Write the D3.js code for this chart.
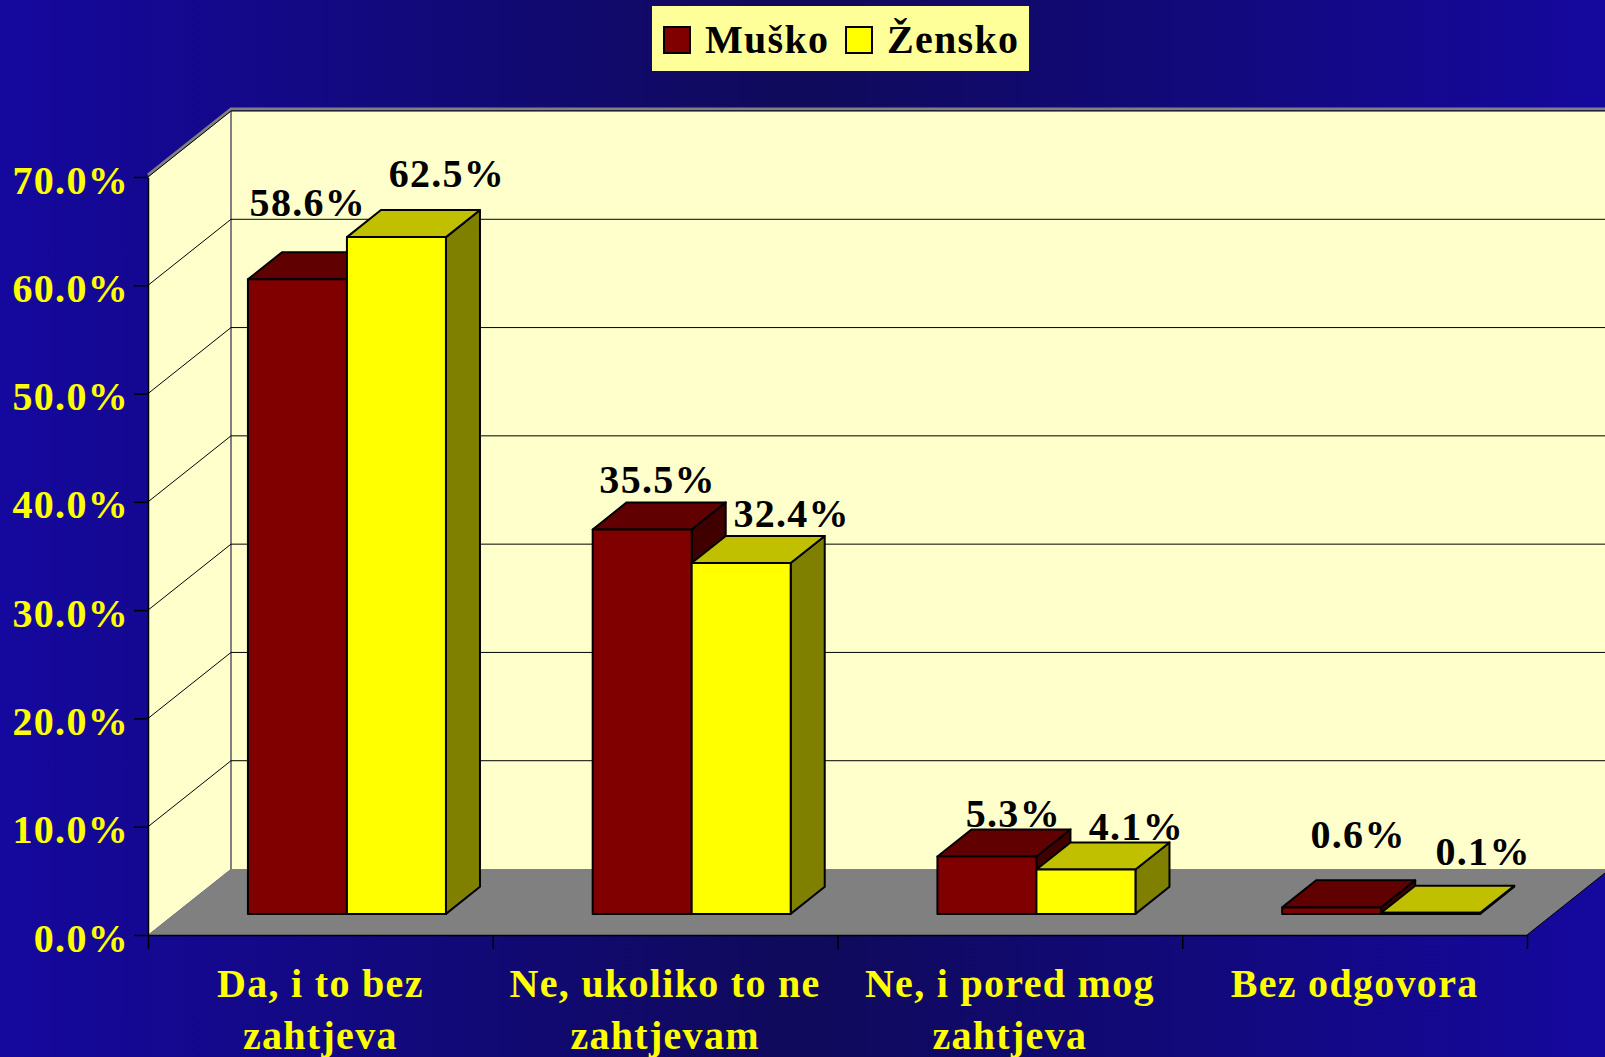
<!DOCTYPE html>
<html>
<head>
<meta charset="utf-8">
<script src="https://cdn.jsdelivr.net/npm/d3@7"></script>
<style>
  body { margin: 0; overflow: hidden; }
  svg { display: block; }
  text { font-family: "Liberation Serif", "Times New Roman", serif; font-weight: bold; letter-spacing: 1.3px; }
</style>
</head>
<body>
<svg id="chart"></svg>
<script>
// data
let categories = [["Da, i to bez", "zahtjeva"], ["Ne, ukoliko to ne", "zahtjevam"], ["Ne, i pored mog", "zahtjeva"], ["Bez odgovora"]]
let seriesNames = ["Muško", "Žensko"]
let muskoValues = [58.6, 35.5, 5.3, 0.6]
let zenskoValues = [62.5, 32.4, 4.1, 0.1]
let yTicks = [0, 10, 20, 30, 40, 50, 60, 70]

let width = 1605
let height = 1057

let colors = [
    {front: '#800000', top: '#600000', side: '#400000'},
    {front: '#ffff00', top: '#c0c000', side: '#808000'}
]

// 3d depth vector of the plot box
let depthX = 83
let depthY = -66
let barD0 = 0.32
let barD1 = 0.73

let svg = d3.select('#chart')
    .attr('width', width)
    .attr('height', height)

let catKeys = categories.map((c, i) => i)

let xScale = d3.scaleBand().domain(catKeys).range([148, 1527])
let xSub = d3.scaleBand().domain(seriesNames).range([0, xScale.bandwidth()]).paddingOuter(0.741)
let xIdx = d3.scaleLinear().domain([0, categories.length]).range(xScale.range())
let yScale = d3.scaleLinear().domain([0, 70]).range([935, 177])

let proj = (x, v, d) => [x + d * depthX, yScale(v) + d * depthY]
let pts = (arr) => arr.map(p => p.join(',')).join(' ')

// background
let defs = svg.append('defs')
let grad = defs.append('linearGradient').attr('id', 'bg').attr('x1', 0).attr('x2', 1).attr('y1', 0).attr('y2', 0)
grad.append('stop').attr('offset', '0%').attr('stop-color', '#15089e')
grad.append('stop').attr('offset', '50%').attr('stop-color', '#0f0a5a')
grad.append('stop').attr('offset', '100%').attr('stop-color', '#15089e')
svg.append('rect').attr('width', width).attr('height', height).attr('fill', 'url(#bg)')

let x0 = xScale.range()[0]
let x1 = xScale.range()[1]
let farRight = width + 100

// walls
svg.append('polygon')
    .attr('points', pts([proj(x0, 0, 0), proj(x0, 70, 0), proj(x0, 70, 1), proj(x0, 0, 1)]))
    .attr('fill', '#ffffcc')
svg.append('polygon')
    .attr('points', pts([proj(x0, 0, 1), proj(x0, 70, 1), [farRight, proj(x0, 70, 1)[1]], [farRight, proj(x0, 0, 1)[1]]]))
    .attr('fill', '#ffffcc')

// wall edges
svg.append('polyline')
    .attr('points', pts([proj(x0, 70, 0), proj(x0, 70, 1), [farRight, proj(x0, 70, 1)[1]]]))
    .attr('transform', 'translate(0,-2)')
    .attr('fill', 'none')
    .attr('stroke', '#808080')
    .attr('stroke-width', 3)
svg.append('line')
    .attr('x1', proj(x0, 0, 1)[0]).attr('y1', proj(x0, 0, 1)[1])
    .attr('x2', proj(x0, 70, 1)[0]).attr('y2', proj(x0, 70, 1)[1])
    .attr('stroke', '#808080')
    .attr('stroke-width', 2)

// gridlines
yTicks.filter(t => t > 0).forEach(t => {
    let a = proj(x0, t, 0)
    let b = proj(x0, t, 1)
    svg.append('polyline')
        .attr('points', pts([a, b, [farRight, b[1]]]))
        .attr('fill', 'none')
        .attr('stroke', '#000')
        .attr('stroke-width', 1)
})

// floor
svg.append('polygon')
    .attr('points', pts([proj(x0, 0, 0), proj(x0, 0, 1), proj(x1, 0, 1), proj(x1, 0, 0)]))
    .attr('fill', '#808080')
svg.append('line')
    .attr('x1', proj(x1, 0, 0)[0]).attr('y1', proj(x1, 0, 0)[1])
    .attr('x2', proj(x1, 0, 1)[0]).attr('y2', proj(x1, 0, 1)[1])
    .attr('stroke', '#000')
    .attr('stroke-width', 1)

// axes
let yAxis = d3.axisLeft(yScale)
    .tickValues(yTicks)
    .tickFormat(d => d.toFixed(1) + '%')
    .tickSize(14)
    .tickSizeOuter(0)
    .tickPadding(5)

let gy = svg.append('g')
    .attr('transform', 'translate(' + x0 + ',0)')
    .call(yAxis)
gy.selectAll('text')
    .attr('fill', '#ffff00')
    .attr('dy', '0.4em')
    .style('font-size', '40px')
    .style('font-family', '"Liberation Serif", serif')
    .style('font-weight', 'bold')
gy.selectAll('line, path').attr('stroke', '#000').attr('stroke-width', 1.5)

let xAxis = d3.axisBottom(xIdx)
    .ticks(categories.length)
    .tickFormat('')
    .tickSize(14)
    .tickSizeOuter(0)
let gx = svg.append('g')
    .attr('transform', 'translate(0,' + yScale(0) + ')')
    .call(xAxis)
gx.selectAll('line, path').attr('stroke', '#000').attr('stroke-width', 1.5)

// category labels
categories.forEach((lines, i) => {
    let t = svg.append('text')
        .attr('x', xScale(i) + xScale.bandwidth() / 2)
        .attr('y', yScale(0) + 62)
        .attr('text-anchor', 'middle')
        .attr('fill', '#ffff00')
        .style('font-size', '40px')
    lines.forEach((ln, j) => {
        t.append('tspan')
            .attr('x', xScale(i) + xScale.bandwidth() / 2)
            .attr('dy', j == 0 ? 0 : 52)
            .text(ln)
    })
})

// bars
let allValues = [muskoValues, zenskoValues]
let barData = []
catKeys.forEach(i => {
    seriesNames.forEach((s, si) => {
        barData.push({cat: i, series: s, si: si, value: allValues[si][i]})
    })
})

let bw = xSub.bandwidth()
let bars = svg.selectAll('g.bar')
    .data(barData)
    .enter()
    .append('g')
    .attr('class', 'bar')

bars.each(function(item) {
    let g = d3.select(this)
    let xf = xScale(item.cat) + xSub(item.series)
    let v = item.value
    let c = colors[item.si]
    g.append('polygon')
        .attr('points', pts([proj(xf + bw, v, barD0), proj(xf + bw, v, barD1), proj(xf + bw, 0, barD1), proj(xf + bw, 0, barD0)]))
        .attr('fill', c.side)
    g.append('polygon')
        .attr('points', pts([proj(xf, v, barD0), proj(xf + bw, v, barD0), proj(xf + bw, v, barD1), proj(xf, v, barD1)]))
        .attr('fill', c.top)
    g.append('polygon')
        .attr('points', pts([proj(xf, 0, barD0), proj(xf, v, barD0), proj(xf + bw, v, barD0), proj(xf + bw, 0, barD0)]))
        .attr('fill', c.front)
    g.selectAll('polygon')
        .attr('stroke', '#000')
        .attr('stroke-width', 2)
        .attr('stroke-linejoin', 'round')
})

// data labels, excel pushes some of them around
let labelShift = [46, 77]
let labelNudge = [
    [[-9, -30], [-4, -4], [7, 3], [7, -27]],
    [[0, -17], [0, -3], [0, 3], [2, -15]]
]
svg.selectAll('text.val')
    .data(barData)
    .enter()
    .append('text')
    .attr('class', 'val')
    .attr('text-anchor', 'middle')
    .attr('fill', '#000')
    .style('font-size', '40px')
    .attr('x', item => xScale(item.cat) + xSub(item.series) + bw / 2 + labelShift[item.si] + labelNudge[item.si][item.cat][0])
    .attr('y', item => yScale(item.value) - 54 + labelNudge[item.si][item.cat][1])
    .text(item => item.value.toFixed(1) + '%')

// legend
let legend = svg.append('g').attr('transform', 'translate(652,6)')
legend.append('rect')
    .attr('width', 377)
    .attr('height', 65)
    .attr('fill', '#ffff99')
let legendX = [12, 194]
seriesNames.forEach((s, si) => {
    legend.append('rect')
        .attr('x', legendX[si])
        .attr('y', 21)
        .attr('width', 26)
        .attr('height', 26)
        .attr('fill', colors[si].front)
        .attr('stroke', '#000')
        .attr('stroke-width', 2)
    legend.append('text')
        .attr('x', legendX[si] + 41)
        .attr('y', 47)
        .attr('fill', '#000')
        .style('font-size', '40px')
        .text(s)
})
</script>
</body>
</html>
